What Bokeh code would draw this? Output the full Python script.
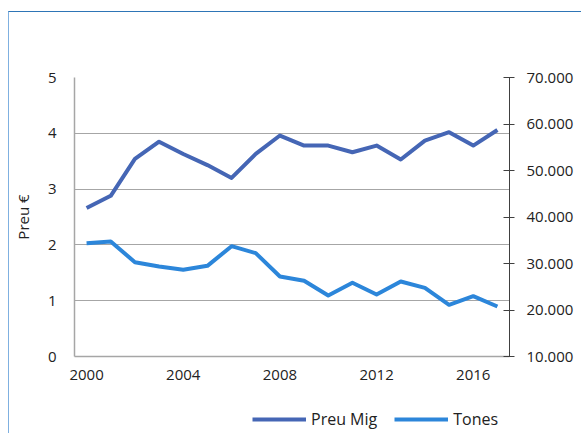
from bokeh.plotting import figure
from bokeh.layouts import column
from bokeh.models import Range1d, LinearAxis, FixedTicker, Legend, LegendItem
from bokeh.embed import file_html
from bokeh.resources import INLINE

years = list(range(2000, 2018))
preu_mig = [2.66, 2.88, 3.54, 3.85, 3.63, 3.43, 3.20, 3.63, 3.96, 3.78,
            3.78, 3.66, 3.78, 3.53, 3.87, 4.02, 3.78, 4.06]
tones = [34370, 34730, 30280, 29350, 28640, 29500, 33720, 32220, 27200, 26280,
         23120, 25850, 23330, 26130, 24770, 21120, 22970, 20750]

x_ticks = [2000, 2004, 2008, 2012, 2016]
x_labels = ["2000", "2004", "2008", "2012", "2016"]
left_ticks = [0, 1, 2, 3, 4, 5]
left_labels = ["0", "1", "2", "3", "4", "5"]
right_ticks = [10000, 20000, 30000, 40000, 50000, 60000, 70000]
right_labels = ["10.000", "20.000", "30.000", "40.000", "50.000", "60.000", "70.000"]
series_names = ["Preu Mig", "Tones"]
series_colors = ["#4566B5", "#2C86DA"]

FONT = "Open Sans"
TXT = "#222222"

p = figure(width=572, height=384, output_backend="svg", toolbar_location=None,
           x_range=Range1d(1999.5, 2017.5), y_range=Range1d(0, 5),
           min_border_left=63, min_border_right=72, min_border_top=65,
           min_border_bottom=40)
p.outline_line_color = None
p.background_fill_color = "white"
p.border_fill_color = "white"
p.extra_y_ranges = {"tones": Range1d(10000, 70000)}

# grid
p.xgrid.visible = False
p.ygrid.ticker = FixedTicker(ticks=left_ticks)
p.ygrid.grid_line_color = "#A6A6A6"
p.ygrid.grid_line_width = 1

# bottom axis
xa = p.xaxis[0]
xa.ticker = FixedTicker(ticks=x_ticks)
xa.major_label_overrides = {t: l for t, l in zip(x_ticks, x_labels)}
xa.major_tick_line_color = None
xa.major_tick_out = 0
xa.major_tick_in = 0
xa.minor_tick_line_color = None
xa.axis_line_color = "#A6A6A6"
xa.axis_line_width = 1.5
xa.major_label_text_font = FONT
xa.major_label_text_font_size = "15px"
xa.major_label_text_color = TXT
xa.major_label_standoff = 13

# left axis
ya = p.yaxis[0]
ya.ticker = FixedTicker(ticks=left_ticks)
ya.major_label_overrides = {t: l for t, l in zip(left_ticks, left_labels)}
ya.major_tick_line_color = None
ya.major_tick_out = 0
ya.major_tick_in = 0
ya.minor_tick_line_color = None
ya.axis_line_color = "#A6A6A6"
ya.axis_line_width = 1.5
ya.major_label_text_font = FONT
ya.major_label_text_font_size = "15px"
ya.major_label_text_color = TXT
ya.major_label_standoff = 18
ya.axis_label = "Preu €"
ya.axis_label_text_font = FONT
ya.axis_label_text_font_size = "15px"
ya.axis_label_text_font_style = "normal"
ya.axis_label_text_color = TXT
ya.axis_label_standoff = 12

# right axis
ra = LinearAxis(y_range_name="tones", ticker=FixedTicker(ticks=right_ticks))
ra.major_label_overrides = {t: l for t, l in zip(right_ticks, right_labels)}
ra.major_tick_in = 6
ra.major_tick_out = 5
ra.major_tick_line_color = "#404040"
ra.minor_tick_line_color = None
ra.axis_line_color = "#404040"
ra.axis_line_width = 1
ra.major_label_text_font = FONT
ra.major_label_text_font_size = "15px"
ra.major_label_text_color = TXT
ra.major_label_standoff = 12
p.add_layout(ra, "right")

p.line(years, preu_mig, line_color=series_colors[0], line_width=4, line_join="round")
p.line(years, tones, y_range_name="tones", line_color=series_colors[1], line_width=4,
       line_join="round")

# legend strip below the chart (its series sit outside its visible range,
# only the legend swatches show)
lg = figure(width=572, height=37, output_backend="svg", toolbar_location=None,
            x_range=Range1d(0, 1), y_range=Range1d(0, 1),
            x_axis_type=None, y_axis_type=None, min_border=0)
lg.outline_line_color = None
lg.border_fill_color = "white"
items = []
for name, col, vals in zip(series_names, series_colors, [preu_mig, tones]):
    r = lg.line(years, vals, line_color=col, line_width=4)
    items.append(LegendItem(label=name, renderers=[r]))
legend = Legend(items=items, orientation="horizontal", location=(178, 3),
                padding=0, margin=0, spacing=17, glyph_width=54, glyph_height=20,
                label_standoff=5, label_height=20,
                border_line_color=None, background_fill_alpha=0,
                label_text_font=FONT, label_text_font_size="16px",
                label_text_color=TXT)
lg.add_layout(legend, "center")

layout = column(p, lg, spacing=0)
layout.styles = {"border-left": "1px solid #7FB0E0", "border-top": "1px solid #2E75B6",
                 "margin-top": "11px", "margin-left": "8px"}

open("out.html", "w").write(file_html(layout, INLINE))
